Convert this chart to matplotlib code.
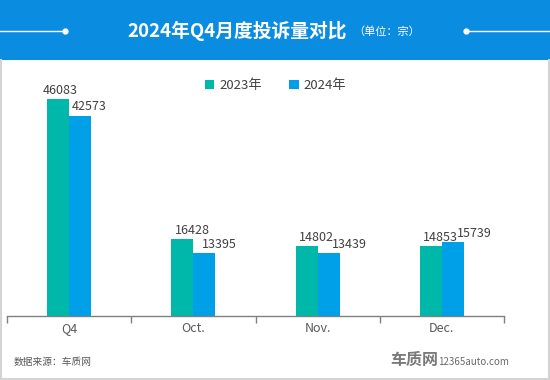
import matplotlib
matplotlib.use("Agg")
import matplotlib.pyplot as plt
from matplotlib.patches import Rectangle
from matplotlib.lines import Line2D
import numpy as np

plt.rcParams['font.family'] = ['Noto Sans CJK SC', 'DejaVu Sans']

categories = ["Q4", "Oct.", "Nov.", "Dec."]
series_names = ["2023年", "2024年"]
values_2023 = [46083, 16428, 14802, 14853]
values_2024 = [42573, 13395, 13439, 15739]

title = "2024年Q4月度投诉量对比"
unit = "（单位：宗）"
source = "数据来源：车质网"

# horizontal label shifts (pixels) as placed in the original chart
shift_2023 = [2, 10, 10, 10]
shift_2024 = [9, 15, 21, 21]

W, H = 550, 380
fig = plt.figure(figsize=(W / 100, H / 100), dpi=100)
fig.patch.set_facecolor("white")

def fx(px):
    return px / W

def fy(py):
    return 1 - py / H

# header
fig.patches.append(Rectangle((0, fy(60)), 1, 60 / H, transform=fig.transFigure,
                             facecolor="#0a8de0", edgecolor="none", zorder=0))
# border of the white area
fig.add_artist(Line2D([fx(0.8), fx(0.8)], [fy(379), fy(60)], transform=fig.transFigure, color="#d4d4d4", lw=1.5))
fig.add_artist(Line2D([fx(549.2), fx(549.2)], [fy(379), fy(60)], transform=fig.transFigure, color="#d4d4d4", lw=1.5))
fig.add_artist(Line2D([fx(0), fx(550)], [fy(378.8), fy(378.8)], transform=fig.transFigure, color="#d4d4d4", lw=1.5))

# header decor lines
fig.add_artist(Line2D([fx(0), fx(65)], [fy(30.5), fy(30.5)], transform=fig.transFigure, color="white", lw=1))
fig.add_artist(Line2D([fx(466), fx(550)], [fy(30.5), fy(30.5)], transform=fig.transFigure, color="white", lw=1))
fig.add_artist(Line2D([fx(65)], [fy(30.5)], transform=fig.transFigure, marker="o", ms=3.5, color="white", lw=0))
fig.add_artist(Line2D([fx(466)], [fy(30.5)], transform=fig.transFigure, marker="o", ms=3.5, color="white", lw=0))

fig.text(fx(347), fy(31), title, color="white", fontsize=13.5, fontweight="bold", ha="right", va="center")
fig.text(fx(353), fy(32), unit, color="white", fontsize=8, ha="left", va="center")

# axes
ax = fig.add_axes([fx(7), fy(316), fx(504) - fx(7), (316 - 70) / H])
x = np.arange(len(categories))
bw = 0.177
c23, c24 = "#00b8a9", "#00a0e9"
b1 = ax.bar(x - bw / 2, values_2023, bw, color=c23, label=series_names[0])
b2 = ax.bar(x + bw / 2, values_2024, bw, color=c24, label=series_names[1])

ax.set_xlim(-0.5, len(categories) - 0.5)
ax.set_ylim(0, 52240)
for s in ["top", "right", "left"]:
    ax.spines[s].set_visible(False)
ax.spines["bottom"].set_color("#808080")
ax.spines["bottom"].set_linewidth(1)
ax.set_yticks([])
ax.set_xticks(x)
ax.set_xticklabels(categories, fontsize=9, color="#595959")
ax.tick_params(axis="x", which="major", length=0, pad=4)
ax.set_xticks(np.arange(-0.5, len(categories)), minor=True)
ax.tick_params(axis="x", which="minor", length=5, color="#808080", width=1)

for bars, shifts in ((b1, shift_2023), (b2, shift_2024)):
    for r, dpx in zip(bars, shifts):
        v = r.get_height()
        ax.annotate(f"{int(v)}", (r.get_x() + r.get_width() / 2, v), xytext=(dpx * 0.72, 1.5),
                    textcoords="offset points", ha="center", va="bottom",
                    fontsize=9, color="#404040")

fig.legend(handles=[b1, b2], labels=series_names, loc="center",
           bbox_to_anchor=(fx(275.5), fy(85.5)), ncol=2, frameon=False,
           fontsize=9.5, handlelength=0.7, handleheight=0.7, handletextpad=0.35,
           columnspacing=2.1, labelcolor="#404040")

# footer
fig.text(fx(14), fy(362), source, fontsize=7, color="#595959", ha="left", va="center")
fig.text(fx(390), fy(360), "车质网", fontsize=11.5, fontweight="bold", color="#7a7a7a",
         ha="left", va="center", style="italic")
fig.text(fx(438), fy(362), "12365auto.com", fontsize=7, color="#6a6a6a", ha="left", va="center")

fig.savefig("out.png", dpi=100)
